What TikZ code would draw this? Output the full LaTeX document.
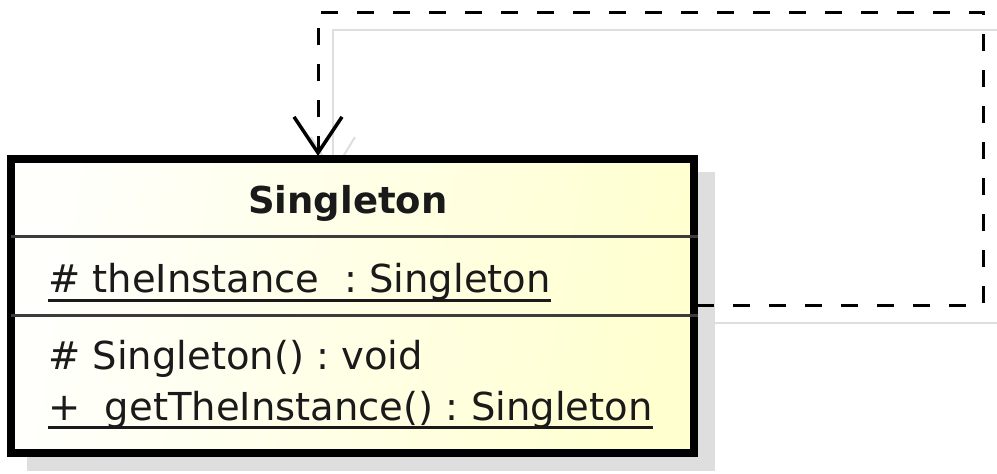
\documentclass[tikz,border=0pt]{standalone}
\usepackage{fontspec}
\setmainfont{DejaVu Sans}
\usetikzlibrary{arrows.meta}
\definecolor{inkdark}{HTML}{1A1A1A}
\definecolor{sepline}{HTML}{3C3C3C}
\definecolor{shadowgray}{HTML}{DEDEDE}
\definecolor{paleyellow}{HTML}{FFFFD0}
\definecolor{offwhite}{HTML}{FFFFFC}
\tikzset{
  classbox/.style={draw=black, line width=8pt, rectangle, inner sep=0pt},
  member/.style={anchor=base west, inner sep=0pt, text=inkdark,
    font=\fontsize{38.5}{42}\selectfont},
  classname/.style={anchor=base, inner sep=0pt, text=inkdark,
    font=\fontsize{37}{42}\selectfont\bfseries},
  uline/.style={draw=inkdark, line width=3pt},
  separator/.style={draw=sepline, line width=3pt},
  dependency/.style={draw=black, line width=3pt,
    dash pattern=on 17pt off 19pt,
    -{Straight Barb[length=36pt, width=48pt, line width=3.5pt]}},
  depshadow/.style={draw=shadowgray, line width=2pt},
}
\begin{document}
\begin{tikzpicture}[x=1pt, y=-1pt]
  \useasboundingbox (0,0) rectangle (997,474);
  \fill[white] (0,0) rectangle (997,474);

  % drop shadow of the class box and of the dependency
  \fill[shadowgray] (27,172) rectangle (715,471);
  \draw[depshadow] (712,323) -- (997,323);
  \draw[depshadow] (997,30) -- (333,30) -- (333,172);
  \draw[depshadow] (311,137) -- (333,173) -- (355,137);

  % class box with gradient fill
  \shade[left color=offwhite, right color=paleyellow, shading angle=80]
    (11,159) rectangle (693.5,452.5);
  \node[classbox, minimum width=682.5pt, minimum height=293.5pt]
    (singleton) at (352.25,305.75) {};

  % compartment separators
  \coordinate (sepA) at (11,236);
  \coordinate (sepB) at (11,315);
  \draw[separator] (sepA) -- (sepA -| singleton.east);
  \draw[separator] (sepB) -- (sepB -| singleton.east);

  % class name
  \node[classname] (title) at (348,213) {Singleton};

  % attribute (static, underlined)
  \node[member] (attr) at (48,292) {\#\ theInstance\ \ :\ Singleton};
  \draw[uline] ([yshift=-8pt]attr.base west) -- ([yshift=-8pt]attr.base east);

  % operations
  \node[member] (ctor) at (48,369) {\#\ Singleton()\ :\ void};
  \node[member] (getter) at (48,420) {+\ \ getTheInstance()\ :\ Singleton};
  \draw[uline] ([yshift=-7pt]getter.base west) -- ([yshift=-7pt]getter.base east);

  % self dependency
  \coordinate (depstart) at (697,305);
  \coordinate (depcorner) at (983,12);
  \coordinate (depend) at (318,156);
  \draw[dependency] (depstart) -| (depcorner) -| (depend);
\end{tikzpicture}
\end{document}
